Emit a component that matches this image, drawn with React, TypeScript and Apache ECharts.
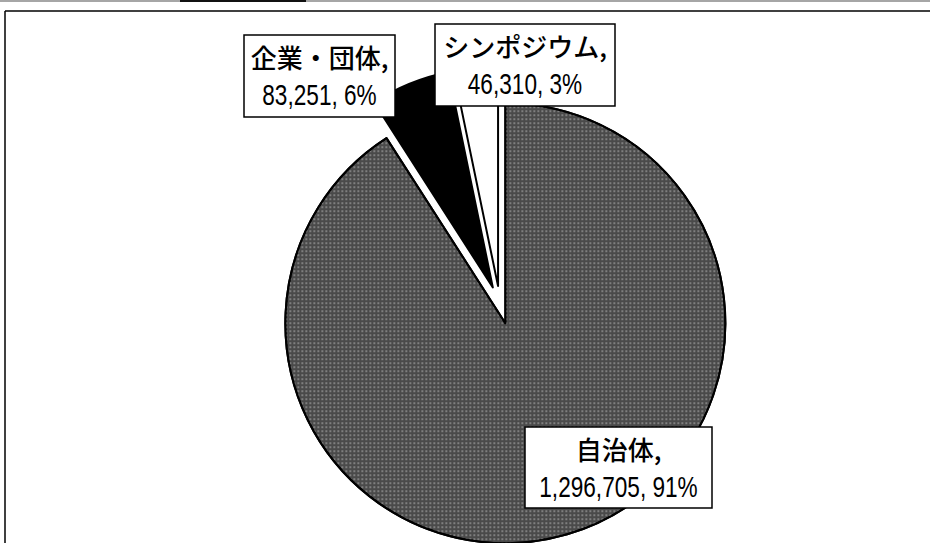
import React, { useEffect, useRef } from 'react';
import * as echarts from 'echarts';

// Data
const categories = ['自治体', '企業・団体', 'シンポジウム'];
const values = [1296705, 83251, 46310];

// Styling / layout (kept separate from the data)
const sliceColors = ['#4a4a4a', '#000000', '#ffffff'];
const labelBoxes = [
  { x: 525, y: 427, w: 187, h: 81 },
  { x: 244, y: 35, w: 151, h: 82 },
  { x: 435, y: 24, w: 180, h: 82 },
];

export default function App() {
  const ref = useRef<HTMLDivElement>(null);

  useEffect(() => {
    const chart = echarts.init(ref.current!, null, { renderer: 'svg' });

    const total = values.reduce((a, b) => a + b, 0);

    const grayDecal = {
      symbol: 'rect',
      symbolSize: 1,
      color: 'rgba(200,200,200,0.42)',
      dashArrayX: [2, 2],
      dashArrayY: [2, 2],
      rotation: 0,
    };

    const data = categories.map((name, i) => {
      const style: any = {
        color: sliceColors[i],
        borderColor: '#000',
        borderWidth: 2,
      };
      if (i === 0) style.decal = grayDecal;
      return {
        name,
        value: values[i],
        selected: true,
        itemStyle: style,
        select: { itemStyle: { ...style } },
      };
    });

    const labelGraphics = categories.map((name, i) => {
      const b = labelBoxes[i];
      const pct = Math.round((values[i] / total) * 100);
      return {
        type: 'group',
        x: b.x,
        y: b.y,
        z: 100,
        children: [
          {
            type: 'rect',
            z: 100,
            shape: { x: 0, y: 0, width: b.w, height: b.h },
            style: { fill: '#fff', stroke: '#000', lineWidth: 1.5 },
          },
          {
            type: 'text',
            z: 101,
            x: b.w / 2,
            y: 21,
            style: {
              text: `${name},`,
              fontFamily: "'Noto Sans CJK JP', sans-serif",
              fontSize: 26,
              fontWeight: 500,
              fill: '#000',
              align: 'center',
              verticalAlign: 'middle',
            },
          },
          {
            type: 'text',
            z: 101,
            x: b.w / 2,
            y: 60,
            scaleX: 0.78,
            style: {
              text: `${values[i].toLocaleString('en-US')}, ${pct}%`,
              fontFamily: "'Liberation Sans', Arial, sans-serif",
              fontSize: 29,
              fill: '#000',
              align: 'center',
              verticalAlign: 'middle',
            },
          },
        ],
      };
    });

    chart.setOption({
      animation: false,
      graphic: [
        { type: 'line', shape: { x1: 0, y1: 1, x2: 930, y2: 1 }, style: { stroke: '#888', lineWidth: 1.5 } },
        { type: 'line', shape: { x1: 180, y1: 1, x2: 306, y2: 1 }, style: { stroke: '#111', lineWidth: 2 } },
        { type: 'line', shape: { x1: 5, y1: 11, x2: 930, y2: 11 }, style: { stroke: '#000', lineWidth: 1.5 } },
        { type: 'line', shape: { x1: 5, y1: 11, x2: 5, y2: 543 }, style: { stroke: '#000', lineWidth: 1.5 } },
        ...labelGraphics,
      ],
      series: [
        {
          type: 'pie',
          center: [500, 305],
          radius: 220,
          startAngle: 90,
          clockwise: true,
          selectedMode: 'multiple',
          selectedOffset: 19,
          avoidLabelOverlap: false,
          emphasis: { disabled: true },
          label: { show: false },
          labelLine: { show: false },
          data,
        },
      ],
    });

    return () => chart.dispose();
  }, []);

  return (
    <div
      ref={ref}
      style={{ position: 'fixed', left: 0, top: 0, width: 930, height: 543, background: '#fff' }}
    />
  );
}
